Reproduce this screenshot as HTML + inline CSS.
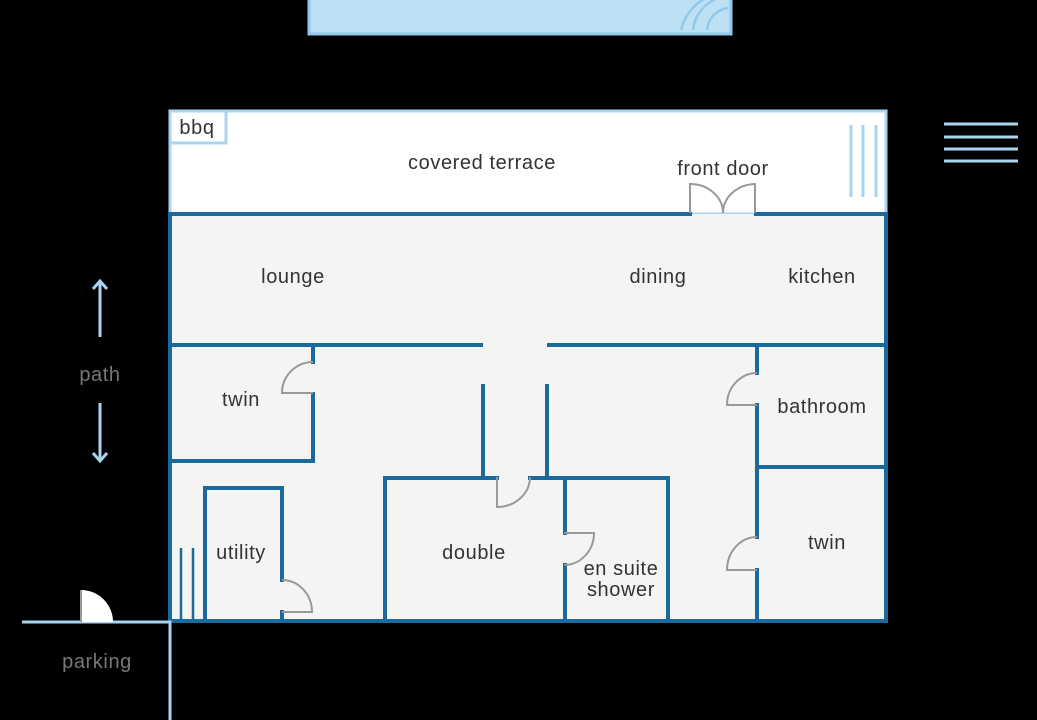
<!DOCTYPE html>
<html><head><style>
html,body{margin:0;padding:0;background:#000;}
svg{display:block}
text{font-family:"Liberation Sans",sans-serif;font-size:20px;letter-spacing:0.6px;fill:#333;text-anchor:middle}
</style></head><body>
<svg width="1037" height="720" viewBox="0 0 1037 720">
<rect x="0" y="0" width="1037" height="720" fill="#000"/>
<rect x="309" y="-3" width="422" height="37" fill="#bde0f5" stroke="#8fc9ec" stroke-width="3"/>
<g fill="none" stroke="#8fc9ec" stroke-width="2.5">
<path d="M681 30 A50 50 0 0 1 731 -8"/>
<path d="M693 30 A38 38 0 0 1 731 -4"/>
<path d="M707 30 A24 24 0 0 1 728 8"/>
</g>
<rect x="170" y="111" width="716" height="103" fill="#fff" stroke="#a8d4ef" stroke-width="3"/>
<rect x="170" y="111" width="56" height="32" fill="#fff" stroke="#a8d4ef" stroke-width="3"/>
<text x="197" y="134">bbq</text>
<text x="482" y="169">covered terrace</text>
<text x="723" y="175">front door</text>
<g stroke="#a8d4ef" stroke-width="3">
<line x1="851" y1="125" x2="851" y2="197"/><line x1="863" y1="125" x2="863" y2="197"/><line x1="876" y1="125" x2="876" y2="197"/>
<line x1="944" y1="124" x2="1018" y2="124"/><line x1="944" y1="137" x2="1018" y2="137"/><line x1="944" y1="149" x2="1018" y2="149"/><line x1="944" y1="161" x2="1018" y2="161"/>
</g>
<rect x="170" y="214" width="716" height="407" fill="#f4f4f2"/>
<g stroke="#1a6a9e" stroke-width="4" fill="none" stroke-linecap="square">
<path d="M170 214 H690 M756 214 H886 V621 H170 V214"/>
<path d="M170 345 H481 M549 345 H886"/>
<path d="M313 345 V362 M313 394 V461 H170"/>
<path d="M483 386 V476 M547 386 V476"/>
<path d="M385 621 V478 H497 M530 478 H668 V621"/>
<path d="M565 478 V533 M565 565 V621"/>
<path d="M757 345 V373 M757 405 V537 M757 570 V621"/>
<path d="M757 467 H886"/>
<path d="M205 621 V488 H282 V580 M282 612 V621"/>
</g>
<g stroke="#999" stroke-width="2" fill="none">
<path d="M690 213 V184 A33 29 0 0 1 723 213 A33 29 0 0 1 755 184 V213"/>
<path d="M313 393 H282 A31 31 0 0 1 313 362"/>
<path d="M497 477 V507 A33 30 0 0 0 530 477"/>
<path d="M564 533 H594 A30 32 0 0 1 564 565"/>
<path d="M757 405 H727 A30 32 0 0 1 757 373"/>
<path d="M757 570 H727 A30 33 0 0 1 757 537"/>
<path d="M282 612 H312 A30 32 0 0 0 282 580"/>
</g>
<g stroke="#1a6a9e" stroke-width="2.5">
<line x1="181" y1="548" x2="181" y2="620"/><line x1="193" y1="548" x2="193" y2="620"/>
</g>
<text x="293" y="283">lounge</text>
<text x="658" y="283">dining</text>
<text x="822" y="283">kitchen</text>
<text x="241" y="406">twin</text>
<text x="822" y="413">bathroom</text>
<text x="241" y="559">utility</text>
<text x="474" y="559">double</text>
<text x="621" y="575">en suite</text>
<text x="621" y="596">shower</text>
<text x="827" y="549">twin</text>
<g stroke="#a8d4ef" stroke-width="3" fill="none">
<path d="M22 622 H170 V720"/>
<path d="M100 282 V337 M93 289 L100 281 L107 289"/>
<path d="M100 403 V460 M93 453 L100 461 L107 453"/>
</g>
<path d="M81 622 V590 A32 32 0 0 1 113 622 Z" fill="#fff"/>
<line x1="81" y1="590" x2="81" y2="622" stroke="#999" stroke-width="2"/>
<text x="100" y="381" style="fill:#777">path</text>
<text x="97" y="668" style="fill:#777">parking</text>
</svg>
</body></html>
